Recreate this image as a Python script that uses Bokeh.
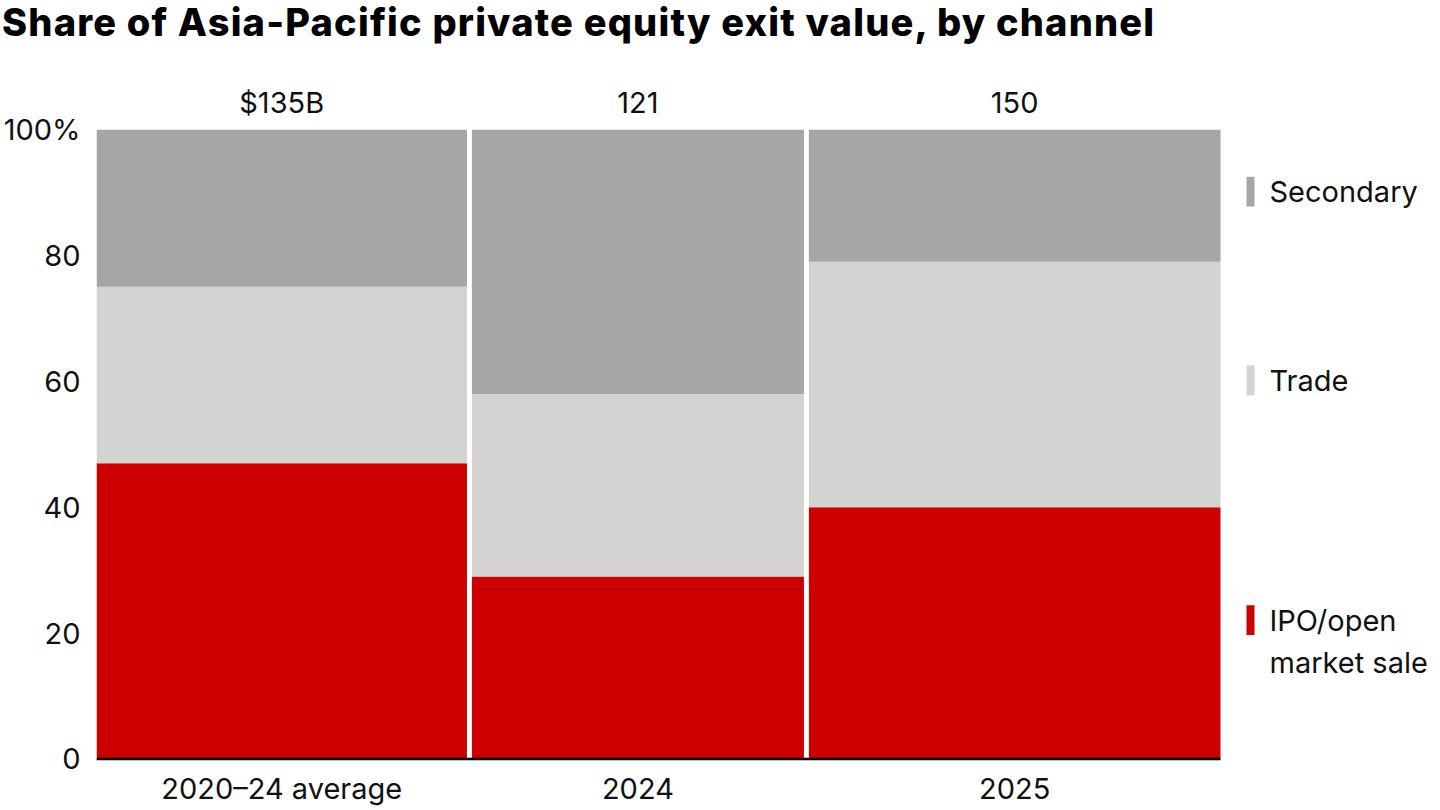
from bokeh.plotting import figure
from bokeh.models import Div, FixedTicker, LinearAxis, Range1d
from bokeh.layouts import column
from bokeh.core.properties import value
from bokeh.embed import file_html
from bokeh.resources import INLINE

# ---- data ----
categories = ["2020\u201324 average", "2024", "2025"]
totals = [135, 121, 150]
total_labels = ["$135B", "121", "150"]
series = ["IPO/open\nmarket sale", "Trade", "Secondary"]
ipo = [47, 29, 40]
trade = [28, 29, 39]
secondary = [25, 42, 21]
colors = ["#CC0000", "#D3D3D1", "#A6A6A4"]
y_ticks = [0, 20, 40, 60, 80, 100]
y_tick_labels = ["0", "20", "40", "60", "80", "100%"]

FONT = "Inter"
FS = "29px"
gap = 1.8

# bar positions from totals
lefts, rights = [], []
x = 0.0
for t in totals:
    lefts.append(x)
    rights.append(x + t)
    x += t + gap
span = rights[-1]
centers = [(l + r) / 2 for l, r in zip(lefts, rights)]

# layout geometry (pixels)
W = 1432
frame_left = 96
frame_right = 1432
bars_px = 1124.0
pxu = bars_px / span               # pixels per x unit
x_end = (frame_right - frame_left) / pxu
frame_h = 633
y_start = -0.4
ypx = frame_h / (100 - y_start)    # pixels per percent
div_h = 48
frame_top = 129

title = Div(
    text=('<div style="font-family:Inter;font-weight:800;font-size:38px;'
          'line-height:38px;color:#000;white-space:nowrap;margin-top:3px;'
          'margin-left:2px;letter-spacing:1.2px;">'
          'Share of Asia-Pacific private equity exit value, by channel</div>'),
    width=W, height=div_h, margin=(0, 0, 0, 0),
)

p = figure(width=W, height=frame_top - div_h + frame_h + 46,
           output_backend="svg", toolbar_location=None,
           x_range=Range1d(0, x_end), y_range=Range1d(y_start, 100),
           min_border_left=frame_left, min_border_right=W - frame_right,
           min_border_top=frame_top - div_h, min_border_bottom=46,
           x_axis_location=None, y_axis_location=None)
p.outline_line_color = None
p.grid.visible = False
p.background_fill_color = "white"
p.border_fill_color = "white"

# stacked segments
stack = [ipo, trade, secondary]
bottoms = [0, 0, 0]
for vals, col in zip(stack, colors):
    tops = [b + v for b, v in zip(bottoms, vals)]
    p.quad(left=lefts, right=rights, bottom=bottoms, top=tops,
           fill_color=col, line_color=None)
    bottoms = tops

# baseline
p.segment(x0=[lefts[0]], y0=[0], x1=[rights[-1]], y1=[0],
          line_color="black", line_width=2.5)

# legend aligned with last bar's segments
mk_l = span + 26 / pxu
mk_r = span + 34 / pxu
tx = span + 49 / pxu
b = 0
for vals, col, name in zip(stack, colors, series):
    v = vals[-1]
    mid = b + v / 2
    b += v
    if "\n" in name:
        block_mid = mid - 8 / ypx
        first_mid = block_mid + 21 / ypx
        p.quad(left=[mk_l], right=[mk_r], bottom=[first_mid - 15 / ypx],
               top=[first_mid + 15 / ypx], fill_color=col, line_color=None)
        p.text(x=[tx], y=[block_mid], text=[name], text_font=value(FONT),
               text_font_size=FS, text_baseline="middle", text_align="left",
               text_color="#111111", text_line_height=1.2)
    else:
        c = mid + 4 / ypx
        p.quad(left=[mk_l], right=[mk_r], bottom=[c - 15 / ypx],
               top=[c + 15 / ypx], fill_color=col, line_color=None)
        p.text(x=[tx], y=[c], text=[name], text_font=value(FONT),
               text_font_size=FS, text_baseline="middle", text_align="left",
               text_color="#111111")

def style_axis(ax):
    ax.axis_line_color = None
    ax.major_tick_line_color = None
    ax.minor_tick_line_color = None
    ax.major_label_text_font = FONT
    ax.major_label_text_font_size = FS
    ax.major_label_text_color = "#111111"

yax = LinearAxis(ticker=FixedTicker(ticks=y_ticks),
                 major_label_overrides={t: l for t, l in zip(y_ticks, y_tick_labels)})
style_axis(yax)
yax.major_label_standoff = 10
p.add_layout(yax, "left")

xax = LinearAxis(ticker=FixedTicker(ticks=centers),
                 major_label_overrides={c: l for c, l in zip(centers, categories)})
style_axis(xax)
xax.major_label_standoff = 3
p.add_layout(xax, "below")

tax = LinearAxis(ticker=FixedTicker(ticks=centers),
                 major_label_overrides={c: l for c, l in zip(centers, total_labels)})
style_axis(tax)
tax.major_label_standoff = 4
p.add_layout(tax, "above")

layout = column(title, p, spacing=0)
open("out.html", "w").write(file_html(layout, INLINE))
